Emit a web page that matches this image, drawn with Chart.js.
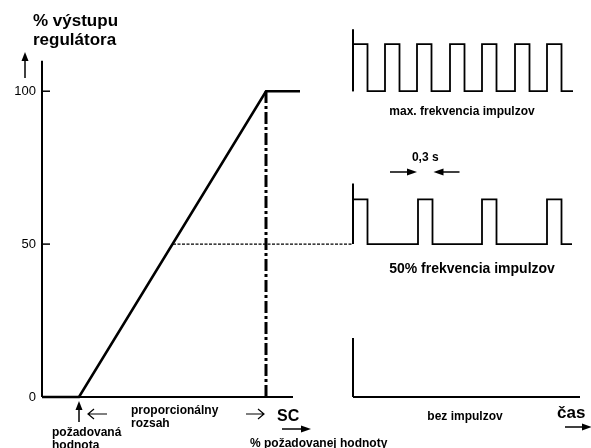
<!DOCTYPE html>
<html>
<head>
<meta charset="utf-8">
<script src="https://cdn.jsdelivr.net/npm/chart.js@4.4.0/dist/chart.umd.min.js"></script>
<style>
  html, body { margin: 0; padding: 0; background: #fff; }
</style>
</head>
<body>
<canvas id="chart" width="591" height="448"></canvas>
<script>
// y axis ticks (% výstupu regulátora)
const yTicks = [0, 50, 100];

// regulator characteristic (x = % of setpoint scale, y = % output)
const rampX = [0, 7.4, 44.8, 51.6];
const rampY = [0, 0, 100, 100];
const axisEndX = 50.2;
const yAxisTop = 110;
const setpointX = 7.4;
const scX = 44.8;
const halfLineX = [26.2, 62.2];

// pulse trains on the right (x = time)
const panelX = 62.2;
const pulseWidth = 2.9;
const maxStarts = [62.2, 68.6, 75, 81.6, 88, 94.6, 101];
const halfStarts = [62.2, 75.2, 88, 101];
const noStarts = [];
// [baseline, pulse top, axis top, baseline end]
const maxPanel = [100, 115.4, 120.3, 106.2];
const halfPanel = [50, 64.6, 69.8, 106];
const noPanel = [0, 0, 19.3, 107.6];

const FONT = "'Liberation Sans', Arial, sans-serif";

// Function to build the points of a pulse train
const pulseTrain = (starts, panel) => {
    const [base, high, , end] = panel;
    const pts = [{ x: panelX, y: base }];
    starts.forEach(s => {
        pts.push({ x: s, y: base }, { x: s, y: high }, { x: s + pulseWidth, y: high }, { x: s + pulseWidth, y: base });
    });
    pts.push({ x: end, y: base });
    return pts;
};

const panelAxis = (panel) => [{ x: panelX, y: panel[0] }, { x: panelX, y: panel[2] }];

const line = (data, width, dash) => ({
    data: data,
    showLine: true,
    borderColor: '#000',
    borderWidth: width,
    borderDash: dash || [],
    pointRadius: 0,
    fill: false,
    clip: false
});

// Function to draw an arrow with a filled head
const arrow = (ctx, x1, y1, x2, y2, len, w) => {
    const a = Math.atan2(y2 - y1, x2 - x1);
    ctx.beginPath();
    ctx.moveTo(x1, y1);
    ctx.lineTo(x2 - Math.cos(a) * len * 0.6, y2 - Math.sin(a) * len * 0.6);
    ctx.stroke();
    ctx.beginPath();
    ctx.moveTo(x2, y2);
    ctx.lineTo(x2 - Math.cos(a) * len + Math.sin(a) * w, y2 - Math.sin(a) * len - Math.cos(a) * w);
    ctx.lineTo(x2 - Math.cos(a) * len - Math.sin(a) * w, y2 - Math.sin(a) * len + Math.cos(a) * w);
    ctx.closePath();
    ctx.fill();
};

// Function to draw an arrow with an open head (like "<-")
const openArrow = (ctx, x1, y, x2) => {
    const d = x2 > x1 ? 1 : -1;
    ctx.beginPath();
    ctx.moveTo(x1, y);
    ctx.lineTo(x2, y);
    ctx.moveTo(x2 - d * 6, y - 5);
    ctx.lineTo(x2, y);
    ctx.lineTo(x2 - d * 6, y + 5);
    ctx.stroke();
};

const annotations = {
    id: 'annotations',
    afterDraw(chart) {
        const { ctx, scales: { x, y } } = chart;
        ctx.save();
        ctx.fillStyle = '#000';
        ctx.strokeStyle = '#000';
        ctx.textBaseline = 'alphabetic';

        // axis title
        ctx.font = 'bold 17px ' + FONT;
        ctx.textAlign = 'left';
        ctx.fillText('% výstupu', 33, 26);
        ctx.fillText('regulátora', 33, 45);
        ctx.lineWidth = 1.5;
        arrow(ctx, 25, 78, 25, 52, 9, 3.5);

        // labels under the characteristic
        const sp = x.getPixelForValue(setpointX);
        const sc = x.getPixelForValue(scX);
        arrow(ctx, sp, 422, sp, 401, 9, 3.5);
        ctx.lineWidth = 1.2;
        openArrow(ctx, sp + 28, 414, sp + 9);
        openArrow(ctx, sc - 20, 414, sc - 2);

        ctx.font = 'bold 12px ' + FONT;
        ctx.fillText('proporcionálny', 131, 414);
        ctx.fillText('rozsah', 131, 427);
        ctx.fillText('požadovaná', 52, 436);
        ctx.fillText('hodnota', 52, 449);
        ctx.fillText('% požadovanej hodnoty', 250, 447);

        ctx.font = 'bold 16px ' + FONT;
        ctx.fillText('SC', sc + 11, 421);
        ctx.lineWidth = 1.5;
        arrow(ctx, sc + 16, 429, sc + 45, 429, 10, 3.5);

        // pulse panel labels
        const mid = (x.getPixelForValue(panelX) + x.getPixelForValue(maxPanel[3])) / 2;
        ctx.font = 'bold 12px ' + FONT;
        ctx.textAlign = 'center';
        ctx.fillText('max. frekvencia impulzov', mid - 1, y.getPixelForValue(maxPanel[0]) + 24);
        ctx.fillText('bez impulzov', mid + 2, y.getPixelForValue(noPanel[0]) + 23);

        const p1 = x.getPixelForValue(halfStarts[1]);
        const p2 = x.getPixelForValue(halfStarts[1] + pulseWidth);
        ctx.fillText('0,3 s', (p1 + p2) / 2, 161);
        ctx.lineWidth = 1.5;
        arrow(ctx, p1 - 28, 172, p1 - 1, 172, 10, 3.5);
        arrow(ctx, p2 + 27, 172, p2 + 1, 172, 10, 3.5);

        ctx.font = 'bold 14px ' + FONT;
        ctx.fillText('50% frekvencia impulzov', mid + 9, y.getPixelForValue(halfPanel[0]) + 29);

        ctx.font = 'bold 17px ' + FONT;
        ctx.textAlign = 'left';
        ctx.fillText('čas', 557, 418);
        arrow(ctx, 565, 427, 592, 427, 10, 3.5);
        ctx.restore();
    }
};

new Chart(document.getElementById('chart').getContext('2d'), {
    type: 'scatter',
    data: {
        datasets: [
            // left axis with inward ticks
            line([{ x: 0, y: 0 }, { x: 0, y: yAxisTop }], 2),
            ...yTicks.slice(1).map(t => line([{ x: 0, y: t }, { x: 1.6, y: t }], 1.5)),
            line([{ x: 0, y: 0 }, { x: axisEndX, y: 0 }], 2.2),
            line(rampX.map((v, i) => ({ x: v, y: rampY[i] })), 2.6),
            line([{ x: scX, y: 0 }, { x: scX, y: 100 }], 3, [12, 3, 3, 3]),
            line(halfLineX.map(v => ({ x: v, y: 50 })), 1.2, [3, 1.5]),
            // pulse panels
            line(panelAxis(maxPanel), 2),
            line(pulseTrain(maxStarts, maxPanel), 1.8),
            line(panelAxis(halfPanel), 2),
            line(pulseTrain(halfStarts, halfPanel), 1.8),
            line(panelAxis(noPanel), 2),
            line(pulseTrain(noStarts, noPanel), 2)
        ]
    },
    options: {
        responsive: false,
        animation: false,
        layout: { padding: { left: 13, right: 11, top: 27, bottom: 51 } },
        plugins: { legend: { display: false }, tooltip: { enabled: false } },
        scales: {
            x: { type: 'linear', min: 0, max: 107.6, display: false },
            y: {
                min: 0,
                max: 121,
                afterBuildTicks: (scale) => { scale.ticks = yTicks.map(v => ({ value: v })); },
                afterFit: (scale) => { scale.width = 29; },
                ticks: { color: '#000', padding: 6, font: { family: FONT, size: 13 } },
                grid: { display: false, tickLength: 0 },
                border: { display: false }
            }
        }
    },
    plugins: [annotations]
});
</script>
</body>
</html>
